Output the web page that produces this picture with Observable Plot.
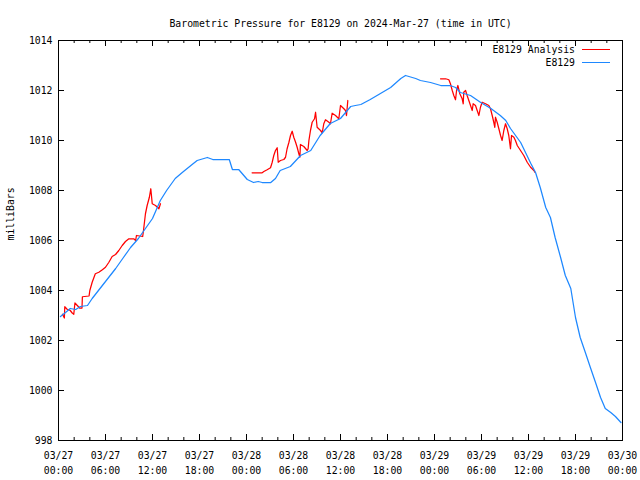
<!DOCTYPE html>
<html><head><meta charset="utf-8">
<script src="https://cdn.jsdelivr.net/npm/d3@7"></script>
<script src="https://cdn.jsdelivr.net/npm/@observablehq/plot@0.6"></script>
<style>body{margin:0;background:#fff} svg{display:block}</style>
</head><body><div id="chart"></div>
<script>
const chartTitle = "Barometric Pressure for E8129 on 2024-Mar-27 (time in UTC)";
const yLabel = "milliBars";
const startTime = "2024-03-27T00:00:00Z";
const endHour = 72;
const seriesNames = ["E8129 Analysis", "E8129"];
const seriesColors = ["#ff0000", "#1e88ff"];

// E8129 station observations (hours after start, mb)
const stationHours = [0.25,0.9,1.5,2.2,2.8,3.7,4.3,5.1,6.1,7.3,8.2,9.2,10.2,11.1,12.0,13.0,13.8,14.9,15.8,16.9,17.7,19.0,19.7,21.8,22.2,23.0,24.1,24.9,25.5,26.0,27.1,27.7,28.3,29.6,30.9,32.2,33.4,34.7,36.0,37.3,37.9,38.6,39.8,41.1,42.4,43.7,44.3,45.6,46.2,47.5,48.8,50.0,50.7,51.3,52.6,53.9,55.2,56.4,57.1,57.7,59.0,60.3,60.9,61.5,62.2,62.8,63.4,64.1,64.7,65.4,66.0,66.6,67.3,67.9,68.6,69.2,69.8,70.5,71.1,71.8];
const stationPressure = [1002.96,1003.12,1003.28,1003.24,1003.36,1003.4,1003.68,1004.0,1004.4,1004.88,1005.28,1005.72,1006.08,1006.48,1006.88,1007.6,1008.0,1008.48,1008.72,1009.0,1009.2,1009.32,1009.24,1009.24,1008.84,1008.84,1008.44,1008.32,1008.36,1008.32,1008.32,1008.48,1008.8,1008.96,1009.4,1009.6,1010.2,1010.68,1010.88,1011.36,1011.4,1011.44,1011.64,1011.88,1012.12,1012.48,1012.6,1012.48,1012.4,1012.32,1012.2,1012.2,1012.12,1011.92,1011.8,1011.52,1011.28,1011.0,1010.8,1010.48,1009.92,1009.08,1008.72,1008.12,1007.32,1006.92,1006.12,1005.32,1004.6,1004.08,1002.92,1002.12,1001.48,1000.92,1000.28,999.72,999.28,999.12,998.96,998.72];

// E8129 Analysis (null = gap)
const analysisHours = [0.5,0.75,0.8,1.1,1.5,1.75,1.95,2.1,2.4,2.7,3.0,3.05,3.9,4.0,4.3,4.7,5.15,5.6,6.0,6.43,6.85,7.28,7.7,8.13,8.55,8.98,9.6,9.85,9.95,10.75,10.85,11.1,11.32,11.6,11.79,11.96,12.38,12.81,13.02,
  13.5,
  24.72,26.0,26.21,26.64,27.07,27.28,27.49,27.7,27.92,28.05,28.34,28.77,28.98,29.19,29.41,29.62,29.83,30.04,30.26,30.47,30.68,30.81,30.89,31.32,31.75,31.87,31.96,32.17,32.39,32.68,32.81,33.02,33.45,33.66,33.87,34.09,34.51,34.72,34.94,35.36,35.79,36.0,36.43,36.64,36.77,36.94,
  40.0,
  48.77,49.41,49.83,50.04,50.26,50.47,50.68,50.81,50.98,51.23,51.54,51.66,51.74,51.96,52.17,52.38,52.6,52.81,52.94,53.24,53.45,53.66,53.87,54.09,54.51,54.94,55.15,55.36,55.57,55.7,55.79,56.0,56.21,56.43,56.64,56.85,57.07,57.28,57.49,57.7,57.83,58.13,58.34,58.56,58.98,59.4,59.83,60.26,60.47,60.68,60.81];
const analysisPressure = [1003.05,1002.9,1003.35,1003.25,1003.2,1003.1,1003.05,1003.5,1003.4,1003.3,1003.3,1003.75,1003.78,1004.0,1004.33,1004.67,1004.73,1004.83,1004.93,1005.13,1005.36,1005.44,1005.6,1005.8,1005.96,1006.07,1006.07,1006.0,1006.2,1006.16,1006.4,1007.07,1007.4,1007.73,1008.07,1007.47,1007.4,1007.27,1007.47,
  null,
  1008.71,1008.71,1008.76,1008.83,1008.91,1009.13,1009.4,1009.6,1009.71,1009.13,1009.2,1009.24,1009.33,1009.67,1009.93,1010.2,1010.37,1010.13,1009.93,1009.73,1009.47,1009.33,1009.84,1009.76,1009.6,1009.67,1010.0,1010.4,1010.73,1010.87,1011.13,1010.53,1010.4,1010.31,1010.67,1010.83,1010.73,1010.67,1011.09,1011.0,1010.87,1011.4,1011.27,1011.2,1011.0,1011.6,
  null,
  1012.47,1012.47,1012.43,1012.27,1012.0,1011.8,1011.63,1012.0,1012.2,1011.87,1011.67,1011.47,1011.93,1012.0,1011.8,1011.6,1011.4,1011.2,1011.47,1011.4,1011.2,1011.0,1011.33,1011.53,1011.47,1011.4,1011.27,1011.0,1010.73,1010.53,1010.93,1010.73,1010.47,1010.2,1010.0,1010.4,1010.67,1010.47,1010.2,1009.67,1010.2,1010.13,1010.0,1009.8,1009.6,1009.4,1009.13,1008.93,1008.87,1008.8,1008.73];

const xTickHours = [0,6,12,18,24,30,36,42,48,54,60,66,72];
const xTickLabels = ["03/27\n00:00","03/27\n06:00","03/27\n12:00","03/27\n18:00","03/28\n00:00","03/28\n06:00","03/28\n12:00","03/28\n18:00","03/29\n00:00","03/29\n06:00","03/29\n12:00","03/29\n18:00","03/30\n00:00"];
const xMinorHours = [2,4,8,10,14,16,20,22,26,28,32,34,38,40,44,46,50,52,56,58,62,64,68,70];
const yTicks = [998,1000,1002,1004,1006,1008,1010,1012,1014];

const t0 = new Date(startTime);
const toDate = h => d3.utcMinute.offset(t0, Math.round(h * 60));

const station = stationHours.map((h, i) => ({date: toDate(h), p: stationPressure[i]}));
const analysis = analysisHours.map((h, i) => ({date: toDate(h), p: analysisPressure[i]}));
const xTicks = xTickHours.map((h, i) => ({date: toDate(h), label: xTickLabels[i]}));
const xMinor = xMinorHours.map(toDate);

const W = 640, H = 480, mT = 40, mR = 18, mB = 40, mL = 58;
const plotW = W - mL - mR, plotH = H - mT - mB;

const legendMark = (index, scales, values, dims) => {
  const g = d3.create("svg:g");
  const xEnd = dims.width - dims.marginRight - 12;
  seriesNames.forEach((name, i) => {
    const y = dims.marginTop + 9.5 + i * 13;
    g.append("line").attr("x1", xEnd - 28).attr("x2", xEnd).attr("y1", y).attr("y2", y)
      .attr("stroke", seriesColors[i]).attr("stroke-width", 1);
    g.append("text").attr("x", xEnd - 35).attr("y", y).attr("dy", "0.32em")
      .attr("text-anchor", "end").attr("fill", "black").text(name);
  });
  return g.node();
};

const chart = Plot.plot({
  width: W, height: H,
  marginTop: mT, marginRight: mR, marginBottom: mB, marginLeft: mL,
  style: {fontFamily: "'DejaVu Sans Mono', 'Liberation Mono', monospace", fontSize: "9.8px", background: "white", color: "black"},
  x: {type: "utc", domain: [toDate(0), toDate(endHour)], axis: null},
  y: {domain: [998, 1014], axis: null},
  marks: [
    Plot.line(analysis, {x: "date", y: "p", stroke: seriesColors[0], strokeWidth: 1.25}),
    Plot.line(station, {x: "date", y: "p", stroke: seriesColors[1], strokeWidth: 1.25}),
    // ticks (inward, mirrored)
    Plot.tickX(xTicks, {x: "date", stroke: "black", insetTop: plotH - 6}),
    Plot.tickX(xTicks, {x: "date", stroke: "black", insetBottom: plotH - 6}),
    Plot.tickX(xMinor, {x: d => d, stroke: "black", insetTop: plotH - 3}),
    Plot.tickX(xMinor, {x: d => d, stroke: "black", insetBottom: plotH - 3}),
    Plot.tickY(yTicks, {y: d => d, stroke: "black", insetRight: plotW - 6}),
    Plot.tickY(yTicks, {y: d => d, stroke: "black", insetLeft: plotW - 6}),
    Plot.frame({stroke: "black"}),
    // tick labels
    Plot.text(xTicks, {x: "date", text: "label", frameAnchor: "bottom", dy: 8, lineAnchor: "top", lineHeight: 1.5, fill: "black"}),
    Plot.text(yTicks, {y: d => d, text: d => String(d), frameAnchor: "left", textAnchor: "end", dx: -6, fill: "black"}),
    // titles
    Plot.text([chartTitle], {text: d => d, frameAnchor: "top", dy: -20, fill: "black"}),
    Plot.text([yLabel], {text: d => d, frameAnchor: "left", dx: -48, rotate: -90, fill: "black"}),
    legendMark
  ]
});
document.getElementById("chart").append(chart);
</script>
</body></html>
